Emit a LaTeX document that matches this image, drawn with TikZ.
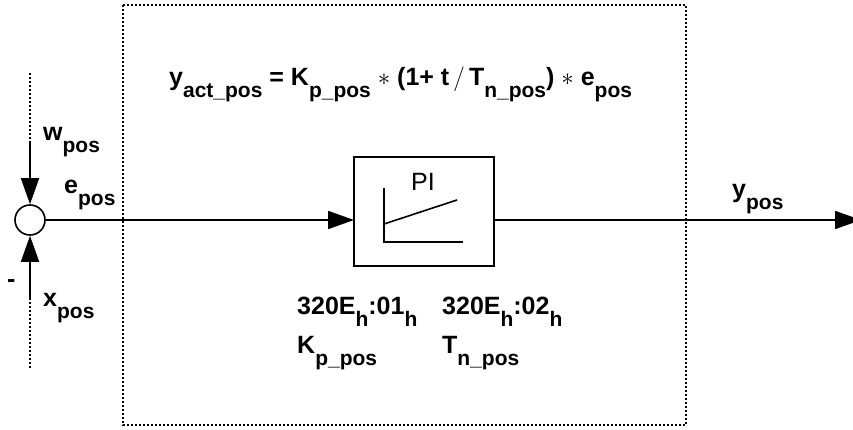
\documentclass[tikz,border=0pt]{standalone}
\usepackage{fontspec}
\setmainfont{Liberation Sans}
\usetikzlibrary{arrows.meta}
\newcommand\sbs[1]{\raisebox{-12pt}{\fontsize{21}{21}\selectfont #1}}
\begin{document}
\begin{tikzpicture}[x=1pt,y=-1pt,
  lbl/.style={inner sep=0pt,anchor=base west,font=\fontsize{25}{25}\selectfont\bfseries},
  tip/.style={-{Triangle[length=26pt,width=18pt]}},
  sig/.style={line width=1.8pt,tip},
  dots/.style={line width=1.3pt,dash pattern=on 2pt off 2pt}]
\useasboundingbox (0,0) rectangle (853,430);
% dotted frame
\draw[dots] (123,5) rectangle (686,425);
\draw[dots] (30,73) -- (30,143);
\draw[dots] (30,298) -- (30,368);
% summing junction
\node[circle,draw,line width=1.6pt,minimum size=30pt,inner sep=0pt] (sum) at (30,220) {};
\coordinate (win) at (30,143);
\coordinate (xin) at (30,298);
\draw[sig] (win) -- (sum.north);
\draw[sig] (xin) -- (sum.south);
% PI block
\node[draw,line width=1.6pt,minimum width=140pt,minimum height=109pt,inner sep=0pt] (pi) at (424,211.5) {};
\coordinate (piin) at (354,220);
\coordinate (piout) at (494,220);
\coordinate (yout) at (861,220);
\draw[sig] (sum.east) -- (piin);
\draw[sig] (piout) -- (yout);
\node[inner sep=0pt,font=\fontsize{25}{25}\selectfont] (pil) at (423,182) {PI};
\coordinate (ax) at (384,188);
\coordinate (ao) at (384,242);
\coordinate (ar) at (463,242);
\coordinate (ds) at (384,224);
\coordinate (de) at (457,200);
\draw[line width=1.6pt] (ax) -- (ao) -- (ar);
\draw[line width=1.6pt] (ds) -- (de);
% labels
\node[lbl] (w) at (43,141) {w\sbs{pos}};
\node[lbl] (e) at (64,194) {e\sbs{pos}};
\node[lbl] (m) at (7,287) {-};
\node[lbl] (x) at (43,306) {x\sbs{pos}};
\node[lbl] (y) at (732,198) {y\sbs{pos}};
\node[lbl] (f) at (169,86) {y\sbs{act\_pos} = K\sbs{p\_pos} $\ast$ (1+ t\,$/$\,T\sbs{n\_pos}) $\ast$ e\sbs{pos}};
\node[lbl] (a1) at (297,314) {320E\sbs{h}:01\sbs{h}};
\node[lbl] (a2) at (442,314) {320E\sbs{h}:02\sbs{h}};
\node[lbl] (k) at (297,353) {K\sbs{p\_pos}};
\node[lbl] (t) at (442,353) {T\sbs{n\_pos}};
\end{tikzpicture}
\end{document}
